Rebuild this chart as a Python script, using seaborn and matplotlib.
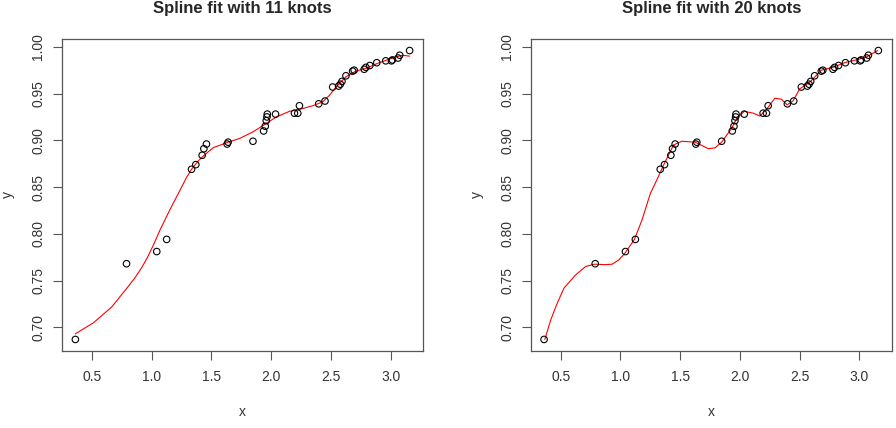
import numpy as np
import pandas as pd
import matplotlib.pyplot as plt
import seaborn as sns

# Data
# --------------

obs_x = [0.361, 0.789, 1.042, 1.125, 1.333, 1.369, 1.422, 1.436, 1.458, 1.631,
         1.639, 1.847, 1.936, 1.950, 1.958, 1.964, 1.967, 2.036, 2.194, 2.222,
         2.236, 2.397, 2.450, 2.514, 2.564, 2.578, 2.592, 2.625, 2.681, 2.694,
         2.778, 2.792, 2.825, 2.883, 2.958, 3.006, 3.014, 3.061, 3.075, 3.158]
obs_y = [0.687, 0.768, 0.781, 0.794, 0.869, 0.874, 0.884, 0.891, 0.896, 0.896,
         0.898, 0.899, 0.910, 0.915, 0.921, 0.925, 0.928, 0.928, 0.929, 0.929,
         0.937, 0.939, 0.942, 0.957, 0.958, 0.960, 0.963, 0.969, 0.974, 0.975,
         0.976, 0.978, 0.980, 0.983, 0.985, 0.985, 0.986, 0.988, 0.991, 0.996]

# fitted curve, 11 knots
fit11_x = [0.361, 0.514, 0.667, 0.805, 0.860, 0.917, 0.965, 1.014, 1.069, 1.153,
           1.230, 1.290, 1.333, 1.390, 1.430, 1.513, 1.638, 1.736, 1.847, 1.958,
           2.042, 2.153, 2.264, 2.347, 2.430, 2.486, 2.542, 2.625, 2.708, 2.792,
           2.903, 3.014, 3.097, 3.158]
fit11_y = [0.693, 0.705, 0.722, 0.744, 0.753, 0.764, 0.775, 0.788, 0.804, 0.826,
           0.845, 0.860, 0.869, 0.878, 0.883, 0.892, 0.898, 0.902, 0.909, 0.918,
           0.925, 0.931, 0.934, 0.937, 0.941, 0.948, 0.957, 0.968, 0.974, 0.977,
           0.983, 0.988, 0.991, 0.990]

# fitted curve, 20 knots
fit20_x = [0.367, 0.417, 0.472, 0.528, 0.625, 0.708, 0.783, 0.875, 0.931, 0.986,
           1.036, 1.117, 1.181, 1.250, 1.306, 1.361, 1.444, 1.514, 1.625, 1.736,
           1.792, 1.847, 1.931, 1.972, 2.036, 2.111, 2.167, 2.222, 2.292, 2.347,
           2.394, 2.444, 2.500, 2.583, 2.681, 2.778, 2.875, 2.972, 3.056, 3.153]
fit20_y = [0.687, 0.708, 0.726, 0.742, 0.756, 0.765, 0.7675, 0.767, 0.7675, 0.772,
           0.779, 0.794, 0.815, 0.843, 0.858, 0.8735, 0.895, 0.899, 0.898, 0.891,
           0.892, 0.898, 0.913, 0.923, 0.931, 0.929, 0.926, 0.933, 0.945, 0.944,
           0.938, 0.942, 0.955, 0.962, 0.975, 0.978, 0.983, 0.986, 0.989, 0.996]

x_ticks = [0.5, 1.0, 1.5, 2.0, 2.5, 3.0]
y_ticks = [0.70, 0.75, 0.80, 0.85, 0.90, 0.95, 1.00]

panels = [
    ("Spline fit with 11 knots", fit11_x, fit11_y),
    ("Spline fit with 20 knots", fit20_x, fit20_y),
]

# Set-up
# --------------

sns.set_style("ticks", {"axes.edgecolor": "#555555", "xtick.color": "#555555",
                        "ytick.color": "#555555"})
plt.rcParams['font.family'] = ['Liberation Sans', 'DejaVu Sans']

obs = pd.DataFrame({"x": obs_x, "y": obs_y})

W, H = 896, 428
figure = plt.figure(figsize=(W / 100, H / 100), dpi=100)

# R-style 4% padding around the data
xspan = max(obs_x) - min(obs_x)
yspan = max(obs_y) - min(obs_y)
xlim = (min(obs_x) - 0.04 * xspan, max(obs_x) + 0.04 * xspan)
ylim = (min(obs_y) - 0.04 * yspan, max(obs_y) + 0.04 * yspan)

box_w, box_h = 361, 312
lefts = [62, 530.7]
top = 39

for left, (title, fx, fy) in zip(lefts, panels):
    ax = figure.add_axes([left / W, 1 - (top + box_h) / H, box_w / W, box_h / H])

    sns.scatterplot(data=obs, x="x", y="y", ax=ax, s=22, marker="o",
                    facecolors="none", edgecolor="black", linewidth=0.8,
                    zorder=3)
    fit = pd.DataFrame({"x": fx, "y": fy})
    sns.lineplot(data=fit, x="x", y="y", ax=ax, color="red", linewidth=0.8,
                 estimator=None, sort=False, zorder=2)

    ax.set_xlim(*xlim)
    ax.set_ylim(*ylim)
    ax.set_xticks(x_ticks)
    ax.set_xticklabels([f"{v:.1f}" for v in x_ticks])
    ax.set_yticks(y_ticks)
    ax.set_yticklabels([f"{v:.2f}" for v in y_ticks], rotation=90, va="center")
    ax.tick_params(axis="both", length=6.5, width=0.8, labelsize=10,
                   labelcolor="#333333")
    ax.tick_params(axis="x", pad=7.5)
    ax.tick_params(axis="y", pad=5.5)
    for side in ax.spines.values():
        side.set_visible(True)
        side.set_linewidth(0.9)

    ax.set_xlabel("x", fontsize=10, color="#333333")
    ax.set_ylabel("y", fontsize=10, color="#333333")
    ax.xaxis.set_label_coords(0.5, -(412 - 351) / box_h)
    ax.xaxis.label.set_va("center")
    ax.yaxis.set_label_coords((8 - 62) / box_w, 0.5)
    ax.yaxis.label.set_va("center")
    ax.yaxis.label.set_ha("center")

    # title sits right at the top edge, as in the reference
    figure.text((left + box_w / 2) / W, 1 - 13 / H, title, ha="center",
                va="baseline", fontsize=12, fontweight="bold")

# Rendering
# --------------

figure.savefig("out.png", dpi=100)
